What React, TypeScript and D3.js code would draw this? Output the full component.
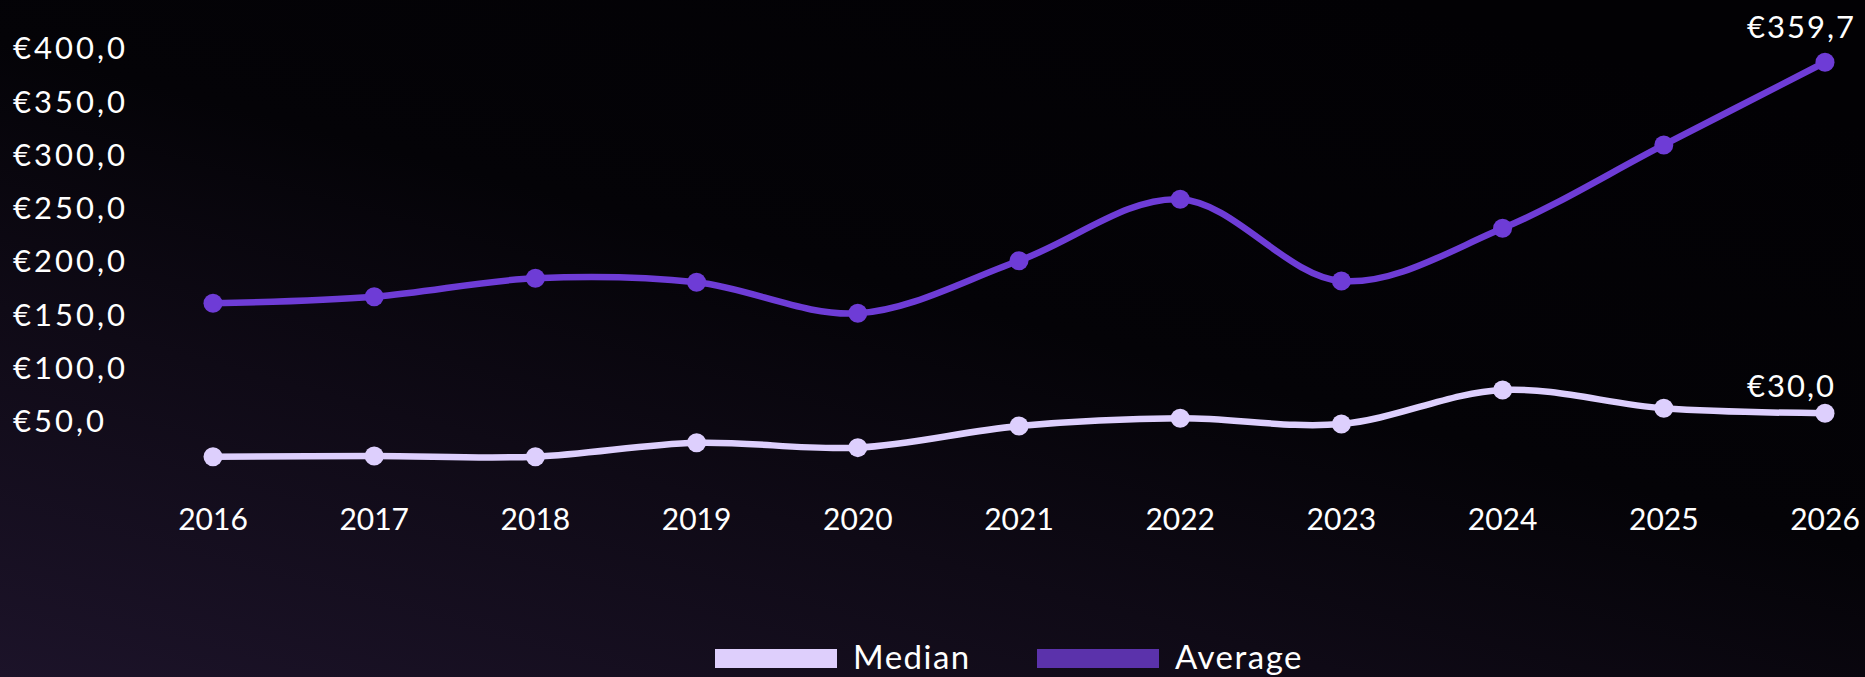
import React from 'react';
import * as d3 from 'd3';

const years = ['2016', '2017', '2018', '2019', '2020', '2021', '2022', '2023', '2024', '2025', '2026'];
const averageValues = [133.3, 139.5, 156.8, 153.0, 123.9, 173.3, 231.0, 154.2, 203.7, 282.0, 359.7];
const medianValues = [-10.8, -10.1, -10.8, 2.3, -2.3, 18.0, 25.3, 19.9, 51.9, 34.7, 30.0];
const yTickValues = [50, 100, 150, 200, 250, 300, 350, 400];
const seriesNames = ['Median', 'Average'];

const W = 1865;
const H = 677;
const FONT = 'Lato, "Open Sans", sans-serif';
const AVG_COLOR = '#6e3cd6';
const MED_COLOR = '#ddcffd';
const LEG_AVG = '#5b32ab';
const LEG_MED = '#decffc';

const fmt = (v: number) => '€' + v.toFixed(1).replace('.', ',');

export default function App() {
  const x = d3.scalePoint<string>().domain(years).range([213, 1825]);
  const y = d3.scaleLinear().domain([0, 400]).range([445.2, 19.36]);

  const line = d3
    .line<number>()
    .x((_, i) => x(years[i]) as number)
    .y((d) => y(d))
    .curve(d3.curveCatmullRom.alpha(0.5));

  const series = [
    { name: seriesNames[0], values: medianValues, color: MED_COLOR, legend: LEG_MED, labelDy: -16 },
    { name: seriesNames[1], values: averageValues, color: AVG_COLOR, legend: LEG_AVG, labelDy: -24 },
  ];

  const legendX = [715, 1037];

  return (
    <>
      <style>{`body{margin:0;background:#050308;overflow:hidden}`}</style>
      <svg width={W} height={H} style={{ display: 'block', fontFamily: FONT }}>
        <defs>
          <linearGradient id="bg" x1="0" y1="1" x2="0.75" y2="0">
            <stop offset="0" stopColor="#1c1329" />
            <stop offset="0.35" stopColor="#0f0a16" />
            <stop offset="0.6" stopColor="#040307" />
            <stop offset="1" stopColor="#020104" />
          </linearGradient>
        </defs>
        <rect x={0} y={0} width={W} height={H} fill="url(#bg)" />

        {yTickValues.map((v) => (
          <text key={v} x={13} y={y(v) + 40} fill="#ffffff" fontSize={31} letterSpacing={3}>
            {fmt(v)}
          </text>
        ))}

        {years.map((yr) => (
          <text key={yr} x={x(yr)} y={530} fill="#ffffff" fontSize={30} textAnchor="middle">
            {yr}
          </text>
        ))}

        {series.map((s) => (
          <g key={s.name}>
            <path d={line(s.values) || ''} fill="none" stroke={s.color} strokeWidth={6.5} strokeLinecap="round" />
            {s.values.map((v, i) => (
              <circle key={i} cx={x(years[i])} cy={y(v)} r={9.5} fill={s.color} />
            ))}
            <text
              x={(x(years[years.length - 1]) as number) - 78}
              y={y(s.values[s.values.length - 1]) + s.labelDy}
              fill="#ffffff"
              fontSize={31}
              letterSpacing={2}
            >
              {fmt(s.values[s.values.length - 1])}
            </text>
          </g>
        ))}

        {series.map((s, i) => (
          <g key={'leg' + s.name}>
            <rect x={legendX[i]} y={649} width={122} height={19} fill={s.legend} />
            <text x={legendX[i] + 138} y={669} fill="#ffffff" fontSize={33} letterSpacing={1.5}>
              {s.name}
            </text>
          </g>
        ))}
      </svg>
    </>
  );
}
